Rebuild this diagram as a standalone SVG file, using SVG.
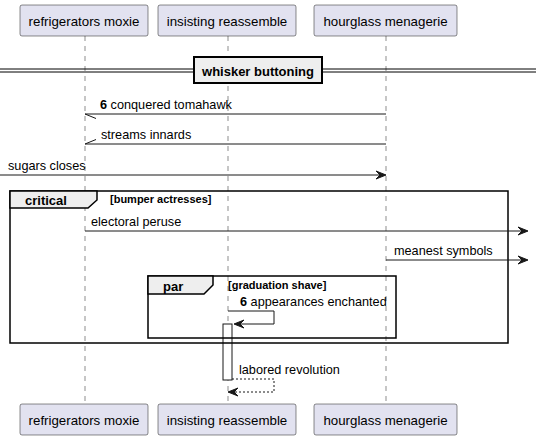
<svg xmlns="http://www.w3.org/2000/svg" width="536" height="440" viewBox="0 0 536 440">
<defs>
<style>
text{font-family:"Liberation Sans",Arial,sans-serif;fill:#000}
.p{font-size:13.3px;text-anchor:middle}
.m{font-size:12.7px}
.b{font-weight:bold}
.pbox{fill:#E2E2F0;stroke:#181818;stroke-width:0.5}
.life{stroke:#181818;stroke-width:0.5;stroke-dasharray:5,5;fill:none}
.ln{stroke:#181818;stroke-width:1;fill:none}
.dash{stroke:#181818;stroke-width:1;stroke-dasharray:2,2;fill:none}
.ah{fill:#181818;stroke:#181818;stroke-width:1}
.frame{fill:none;stroke:#000;stroke-width:1.5}
.tab{fill:#EEEEEE;stroke:#000;stroke-width:1.5}
</style>
</defs>
<rect width="536" height="440" fill="#fff"/>
<g id="lifelines">
<line class="life" x1="85" y1="36" x2="85" y2="404"/>
<line class="life" x1="228" y1="36" x2="228" y2="404"/>
<line class="life" x1="386" y1="36" x2="386" y2="404"/>
</g>
<g id="p1">
<rect class="pbox" x="20" y="5" width="128" height="31" rx="2"/>
<text class="p" x="84" y="26">refrigerators moxie</text>
<rect class="pbox" x="20" y="404" width="128" height="31" rx="2"/>
<text class="p" x="84" y="425">refrigerators moxie</text>
</g>
<g id="p2">
<rect class="pbox" x="158" y="5" width="138" height="31" rx="2"/>
<text class="p" x="227" y="26">insisting reassemble</text>
<rect class="pbox" x="158" y="404" width="138" height="31" rx="2"/>
<text class="p" x="227" y="425">insisting reassemble</text>
</g>
<g id="p3">
<rect class="pbox" x="314" y="5" width="143" height="31" rx="2"/>
<text class="p" x="385.5" y="26">hourglass menagerie</text>
<rect class="pbox" x="314" y="404" width="143" height="31" rx="2"/>
<text class="p" x="385.5" y="425">hourglass menagerie</text>
</g>
<g id="activation">
<rect x="223" y="324" width="9" height="56" fill="#fff" stroke="#181818" stroke-width="1"/>
</g>
<g id="divider">
<line x1="0" y1="69" x2="536" y2="69" stroke="#000" stroke-width="1"/>
<line x1="0" y1="72" x2="536" y2="72" stroke="#000" stroke-width="1"/>
<rect x="194" y="57" width="128" height="26" fill="#EEEEEE" stroke="#000" stroke-width="2"/>
<text class="b" x="258" y="76" font-size="13" text-anchor="middle">whisker buttoning</text>
</g>
<g id="critical">
<rect class="frame" x="10" y="191" width="498" height="152"/>
<polygon class="tab" points="10,191 97,191 97,200 88,208 10,208"/>
<text class="b" x="25" y="205" font-size="13">critical</text>
<text class="b" x="110" y="203" font-size="11">[bumper actresses]</text>
</g>
<g id="par">
<rect class="frame" x="148" y="276" width="248" height="62"/>
<polygon class="tab" points="148,276 213,276 213,285 204,294 148,294"/>
<text class="b" x="163" y="291" font-size="13">par</text>
<text class="b" x="228" y="289" font-size="11">[graduation shave]</text>
</g>
<g id="connectors">
<line class="ln" x1="386" y1="114" x2="85" y2="114"/>
<line class="ln" x1="85" y1="114" x2="96" y2="118.5"/>
<text class="m" x="100" y="109"><tspan class="b">6</tspan> conquered tomahawk</text>
<line class="ln" x1="386" y1="144" x2="85" y2="144"/>
<line class="ln" x1="85" y1="144" x2="96" y2="139.5"/>
<text class="m" x="101" y="139">streams innards</text>
<line class="ln" x1="0" y1="175" x2="384" y2="175"/>
<polygon class="ah" points="376,171 386,175 376,179 380,175"/>
<text class="m" x="8" y="170">sugars closes</text>
<line class="ln" x1="85" y1="231" x2="526" y2="231"/>
<polygon class="ah" points="518,227 528,231 518,235 522,231"/>
<text class="m" x="91" y="226">electoral peruse</text>
<line class="ln" x1="386" y1="260" x2="526" y2="260"/>
<polygon class="ah" points="518,256 528,260 518,264 522,260"/>
<text class="m" x="394" y="255">meanest symbols</text>
<polyline class="ln" points="228,311 274,311 274,324 236,324"/>
<polygon class="ah" points="244,320 234,324 244,328 240,324"/>
<text class="m" x="240" y="306"><tspan class="b">6</tspan> appearances enchanted</text>
<polyline class="dash" points="232,379 274,379 274,392 230,392"/>
<polygon class="ah" points="238,388 228,392 238,396 234,392"/>
<text class="m" x="239" y="374">labored revolution</text>
</g>
</svg>
